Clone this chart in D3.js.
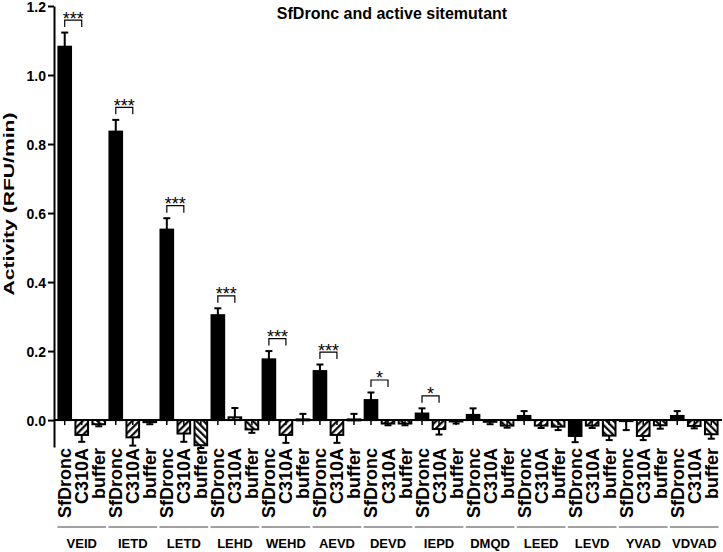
<!DOCTYPE html>
<html>
<head>
<meta charset="utf-8">
<script src="https://cdn.jsdelivr.net/npm/d3@7"></script>
<style>
  body { margin: 0; background: #fff; }
  svg text { font-family: "Liberation Sans", Arial, sans-serif; }
</style>
</head>
<body>
<div id="chart"></div>
<script>
// Chart data
var groups = ["VEID", "IETD", "LETD", "LEHD", "WEHD", "AEVD", "DEVD", "IEPD", "DMQD", "LEED", "LEVD", "YVAD", "VDVAD"];
var samples = ["SfDronc", "C310A", "buffer"];

var sfdronc    = [1.082, 0.836, 0.552, 0.304, 0.176, 0.142, 0.058, 0.019, 0.015, 0.012, -0.046, -0.003, 0.012];
var sfdroncErr = [0.041, 0.034, 0.033, 0.020, 0.024, 0.019, 0.022, 0.015, 0.019, 0.014, 0.018, 0.026, 0.014];
var c310a      = [-0.043, -0.050, -0.039, 0.008, -0.043, -0.043, -0.010, -0.026, -0.005, -0.016, -0.016, -0.046, -0.017];
var c310aErr   = [0.020, 0.024, 0.024, 0.027, 0.023, 0.023, 0.005, 0.016, 0.007, 0.007, 0.007, 0.012, 0.007];
var buffer     = [-0.012, -0.006, -0.073, -0.027, 0.002, 0.002, -0.010, -0.004, -0.016, -0.019, -0.045, -0.015, -0.041];
var bufferErr  = [0.006, 0.006, 0.008, 0.010, 0.016, 0.016, 0.005, 0.006, 0.006, 0.010, 0.013, 0.010, 0.013];

var yTicks = [0, 0.2, 0.4, 0.6, 0.8, 1.0, 1.2];

// significance brackets (SfDronc vs C310A)
var sigGroups = ["VEID", "IETD", "LETD", "LEHD", "WEHD", "AEVD", "DEVD", "IEPD"];
var sigLabels = ["***", "***", "***", "***", "***", "***", "*", "*"];

var title = "SfDronc and active sitemutant";
var yTitle = "Activity (RFU/min)";

// Flatten into one bar list
var bars = [];
groups.forEach(function(g, i) {
  bars.push({group: g, sample: samples[0], value: sfdronc[i], err: sfdroncErr[i], fill: "#000"});
  bars.push({group: g, sample: samples[1], value: c310a[i], err: c310aErr[i], fill: "url(#hatchFwd)"});
  bars.push({group: g, sample: samples[2], value: buffer[i], err: bufferErr[i], fill: "url(#hatchBack)"});
});
bars.forEach(function(d, i) { d.key = i; });

var W = 723, H = 552;
var svg = d3.select("#chart").append("svg")
  .attr("width", W)
  .attr("height", H);

// hatch patterns
var defs = svg.append("defs");
function hatch(id, angle) {
  var p = defs.append("pattern")
    .attr("id", id)
    .attr("patternUnits", "userSpaceOnUse")
    .attr("width", 5)
    .attr("height", 5)
    .attr("patternTransform", "rotate(" + angle + ")");
  p.append("rect").attr("width", 5).attr("height", 5).attr("fill", "#fff");
  p.append("line")
    .attr("x1", 1.2).attr("y1", 0).attr("x2", 1.2).attr("y2", 5)
    .attr("stroke", "#000").attr("stroke-width", 2.2);
}
hatch("hatchFwd", 45);
hatch("hatchBack", -45);

// Scales
var x = d3.scaleBand()
  .domain(bars.map(d => d.key))
  .range([54, 722])
  .paddingInner(0.14)
  .paddingOuter(0.2);
var bw = x.bandwidth();

var y = d3.scaleLinear()
  .domain([-0.078, 1.2])
  .range([447, 6]);

// Title
svg.append("text")
  .attr("x", 392)
  .attr("y", 19)
  .attr("text-anchor", "middle")
  .style("font-size", "16px")
  .style("font-weight", "bold")
  .text(title);

// Y axis title
svg.append("text")
  .attr("transform", "translate(14,204) rotate(-90)")
  .attr("text-anchor", "middle")
  .attr("textLength", 183)
  .attr("lengthAdjust", "spacingAndGlyphs")
  .style("font-size", "15px")
  .style("font-weight", "bold")
  .text(yTitle);

// Y axis
var yAxis = svg.append("g")
  .attr("transform", "translate(54,0)")
  .call(d3.axisLeft(y).tickValues(yTicks).tickFormat(d3.format(".1f")).tickSize(6).tickSizeOuter(0));
yAxis.select(".domain").attr("stroke", "#000").attr("stroke-width", 2);
yAxis.selectAll(".tick line").attr("stroke", "#000").attr("stroke-width", 2);
yAxis.selectAll(".tick text")
  .attr("x", -8)
  .attr("dy", "0.4em")
  .style("font-size", "14px")
  .style("font-weight", "bold")
  .style("font-family", "'Liberation Sans', Arial, sans-serif")
  .attr("fill", "#000");

// Bars
var barG = svg.append("g");
barG.selectAll("rect")
  .data(bars)
  .join("rect")
  .attr("x", d => x(d.key) + 1)
  .attr("width", bw - 2)
  .attr("y", d => Math.min(y(0), y(d.value)))
  .attr("height", d => Math.max(1, Math.abs(y(d.value) - y(0))))
  .attr("fill", d => d.fill)
  .attr("stroke", "#000")
  .attr("stroke-width", 2);

// Error bars (one-sided, away from zero)
var errG = svg.append("g").attr("stroke", "#000").attr("stroke-width", 2);
function errEnd(d) { return d.value >= 0 ? d.value + d.err : d.value - d.err; }
errG.selectAll("line.stem")
  .data(bars)
  .join("line")
  .attr("class", "stem")
  .attr("x1", d => x(d.key) + bw / 2)
  .attr("x2", d => x(d.key) + bw / 2)
  .attr("y1", d => y(d.value))
  .attr("y2", d => y(errEnd(d)));
errG.selectAll("line.cap")
  .data(bars)
  .join("line")
  .attr("class", "cap")
  .attr("x1", d => x(d.key) + bw / 2 - 3.5)
  .attr("x2", d => x(d.key) + bw / 2 + 3.5)
  .attr("y1", d => y(errEnd(d)))
  .attr("y2", d => y(errEnd(d)));

// X axis at zero
var xAxis = svg.append("g")
  .attr("transform", "translate(0," + y(0) + ")")
  .call(d3.axisBottom(x).tickSize(5).tickSizeOuter(0).tickFormat(""));
xAxis.select(".domain")
  .attr("d", "M54,0H722")
  .attr("stroke", "#000")
  .attr("stroke-width", 2);
xAxis.selectAll(".tick line").attr("stroke", "#000").attr("stroke-width", 1.5);

// Bar labels (rotated)
svg.append("g").selectAll("text")
  .data(bars)
  .join("text")
  .attr("transform", d => "translate(" + (x(d.key) + bw / 2 + 6.5) + ",448) rotate(-90)")
  .attr("text-anchor", "end")
  .style("font-size", "18px")
  .style("font-weight", "bold")
  .text(d => d.sample);

// Group underlines and labels
var gG = svg.append("g");
groups.forEach(function(g, i) {
  var x0 = x(i * 3), x1 = x(i * 3 + 2) + bw;
  gG.append("line")
    .attr("x1", x0).attr("x2", x1)
    .attr("y1", 527).attr("y2", 527)
    .attr("stroke", "#444")
    .attr("stroke-width", 1);
  gG.append("text")
    .attr("x", (x0 + x1) / 2)
    .attr("y", 548)
    .attr("text-anchor", "middle")
    .style("font-size", "13px")
    .style("font-weight", "bold")
    .text(g);
});

// Significance brackets
var sG = svg.append("g");
sigGroups.forEach(function(g, i) {
  var gi = groups.indexOf(g);
  var a = bars[gi * 3], b = bars[gi * 3 + 1];
  var xa = x(a.key) + bw / 2, xb = x(b.key) + bw / 2;
  var top = Math.min(y(errEnd(a)), y(errEnd(b)));
  var by = top - 12.5;
  sG.append("path")
    .attr("d", "M" + xa + "," + (by + 7) + "V" + by + "H" + xb + "V" + (by + 7))
    .attr("fill", "none")
    .attr("stroke", "#000")
    .attr("stroke-width", 1.2);
  sG.append("text")
    .attr("x", (xa + xb) / 2)
    .attr("y", by + 4.5)
    .attr("text-anchor", "middle")
    .style("font-size", "18px")
    .text(sigLabels[i]);
});
</script>
</body>
</html>
